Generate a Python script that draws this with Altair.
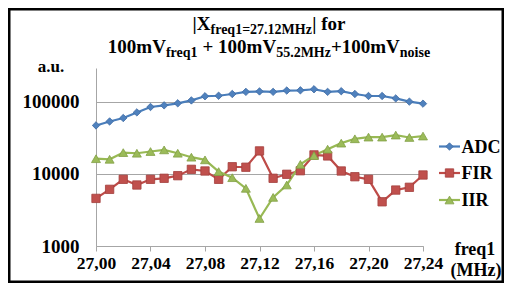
import altair as alt
import pandas as pd

# ---------------- data ----------------
freqs = [27.00, 27.01, 27.02, 27.03, 27.04, 27.05, 27.06, 27.07, 27.08, 27.09,
         27.10, 27.11, 27.12, 27.13, 27.14, 27.15, 27.16, 27.17, 27.18, 27.19,
         27.20, 27.21, 27.22, 27.23, 27.24]
adc = [47200, 53600, 59800, 71600, 85100, 89700, 95700, 105000, 120000, 122000,
       129000, 138000, 140000, 138000, 144000, 145000, 150000, 138000, 141000, 129000,
       121000, 121000, 112000, 101000, 94700]
fir = [4580, 6120, 8430, 7030, 8430, 8710, 9470, 11600, 11000, 8430,
       12600, 12400, 20900, 8710, 9900, 11100, 18400, 17800, 11000, 9160,
       8430, 4110, 5980, 6530, 9680]
iir = [16300, 16000, 19800, 19400, 20500, 21600, 19400, 17100, 15700, 10800,
       8880, 6320, 2410, 4730, 7030, 13600, 18000, 22100, 26800, 30800,
       32500, 32500, 34700, 32100, 33600]
series_names = ["ADC", "FIR", "IIR"]
y_ticks = [1000, 10000, 100000]
x_ticks = [27.00, 27.04, 27.08, 27.12, 27.16, 27.20, 27.24]

rows = []
for name, vals in zip(series_names, [adc, fir, iir]):
    for f, v in zip(freqs, vals):
        rows.append({"freq": f, "value": v, "series": name})
df = pd.DataFrame(rows)

# ---------------- styles ----------------
W, H = 327, 178
FONT = "Liberation Serif"
line_colors = ["#4A7EBB", "#BE4B48", "#98B954"]
fill_colors = ["#4F81BD", "#C0504D", "#9BBB59"]
edge_colors = ["#3F6BA3", "#A33F3C", "#82A045"]
shapes = ["diamond", "square", "triangle-up"]
sizes = [55, 70, 80]
grid_gray = "#A6A6A6"

xs = alt.X("freq:Q",
           scale=alt.Scale(domain=[27.0, 27.24], nice=False, zero=False),
           axis=alt.Axis(values=x_ticks, title=None, grid=False,
                         labelExpr="replace(format(datum.value, '.2f'), '.', ',')",
                         labelFont=FONT, labelFontSize=17.5, labelFontWeight="bold",
                         labelColor="black", labelPadding=3,
                         tickSize=5, tickColor=grid_gray, domainColor=grid_gray,
                         labelFlush=False, labelOverlap=False))
ys = alt.Y("value:Q",
           scale=alt.Scale(type="log", domain=[1000, 296000], nice=False),
           axis=alt.Axis(values=y_ticks, title=None, format="d",
                         grid=True, gridColor=grid_gray, gridWidth=1,
                         ticks=False, tickSize=0, domainColor=grid_gray,
                         labelFont=FONT, labelFontSize=19, labelFontWeight="bold",
                         labelColor="black", labelPadding=17))

lines = alt.Chart(df).mark_line(strokeWidth=2.2).encode(
    x=xs, y=ys,
    color=alt.Color("series:N", scale=alt.Scale(domain=series_names, range=line_colors), legend=None),
)

layers = [lines]
for i, name in enumerate(series_names):
    layers.append(
        alt.Chart(df).transform_filter(alt.datum.series == name).mark_point(
            shape=shapes[i], size=sizes[i], filled=True, opacity=1,
            fill=fill_colors[i], stroke=edge_colors[i], strokeWidth=0.8
        ).encode(x=xs, y=ys)
    )

# ---------------- legend ----------------
leg_y = [78.5, 105, 132]
for i, name in enumerate(series_names):
    d = alt.Data(values=[{"series": name}])
    layers.append(alt.Chart(d).mark_rule(strokeWidth=2.2, color=line_colors[i]).encode(
        x=alt.value(343), x2=alt.value(364), y=alt.value(leg_y[i])))
    layers.append(alt.Chart(d).mark_point(
        shape=shapes[i], size=sizes[i], filled=True, opacity=1,
        fill=fill_colors[i], stroke=edge_colors[i], strokeWidth=0.8
    ).encode(x=alt.value(353.5), y=alt.value(leg_y[i])))
    layers.append(alt.Chart(d).mark_text(
        font=FONT, fontSize=18, fontWeight="bold", color="black",
        align="left", baseline="middle"
    ).encode(x=alt.value(365.5), y=alt.value(leg_y[i] + 1), text="series:N"))

# ---------------- title with subscripts ----------------
TW = {'|': 220, 'X': 722, 'f': 333, 'r': 444, 'e': 444, 'q': 556, '1': 500, '=': 570,
      '2': 500, '7': 500, '.': 250, 'M': 944, 'H': 778, 'z': 444, ' ': 250, 'o': 500,
      '0': 500, 'm': 833, 'V': 722, '+': 570, '5': 500, 'n': 556, 'i': 278, 's': 389}


def tw(s, size):
    return sum(TW.get(c, 500) for c in s) / 1000.0 * size


MAIN, SUB = 19, 14
title_lines = [
    ([("|X", 0), ("freq1=27.12MHz", 1), ("| for", 0)], -38),
    ([("100mV", 0), ("freq1", 1), (" + 100mV", 0), ("55.2MHz", 1), ("+100mV", 0), ("noise", 1)], -15),
]
center_x = 173
for segs, base in title_lines:
    total = sum(tw(t, SUB if s else MAIN) for t, s in segs)
    x = center_x - total / 2
    for t, s in segs:
        size = SUB if s else MAIN
        lead = len(t) - len(t.lstrip(" "))
        txt = t.strip(" ")
        xx = x + tw(" " * lead, size)
        layers.append(alt.Chart(alt.Data(values=[{"t": txt}])).mark_text(
            font=FONT, fontSize=size, fontWeight="bold", color="black",
            align="left", baseline="alphabetic"
        ).encode(x=alt.value(xx), y=alt.value(base + (4 if s else 0)), text="t:N"))
        x += tw(t, size)

# ---------------- axis captions ----------------
captions = [("a.u.", -45, 4, 17), ("freq1", 379, 187, 18), ("(MHz)", 380, 208, 18)]
for txt, cx, cy, fs in captions:
    layers.append(alt.Chart(alt.Data(values=[{"t": txt}])).mark_text(
        font=FONT, fontSize=fs, fontWeight="bold", color="black",
        align="center", baseline="alphabetic"
    ).encode(x=alt.value(cx), y=alt.value(cy), text="t:N"))

# ---------------- outer frame ----------------
layers.append(alt.Chart(alt.Data(values=[{"a": 1}])).mark_rect(
    fillOpacity=0, stroke="black", strokeWidth=2.5
).encode(x=alt.value(-86.75), x2=alt.value(406.75), y=alt.value(-58.75), y2=alt.value(213.75)))

chart = alt.layer(*layers).properties(
    width=W, height=H,
    autosize=alt.AutoSizeParams(type="none"),
    padding={"left": 88, "top": 60, "right": 81, "bottom": 37},
    background="white",
).configure_view(stroke=None)

chart.save("out.html", embed_options={"renderer": "svg", "actions": False})
